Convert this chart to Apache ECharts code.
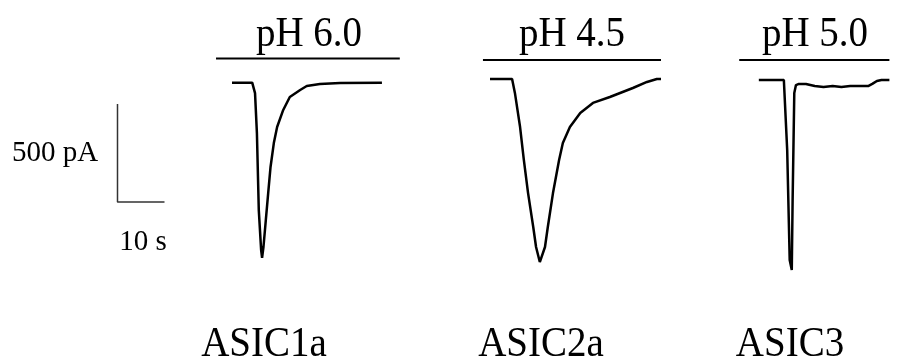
<!DOCTYPE html>
<html>
<head>
<meta charset="utf-8">
<script src="https://cdn.jsdelivr.net/npm/echarts@6/dist/echarts.min.js"></script>
<style>
  html, body { margin: 0; padding: 0; background: #fff; }
  #main { width: 909px; height: 361px; }
</style>
</head>
<body>
<div id="main"></div>
<script type="text/javascript">
    // 数据：时间 (s) 与电流 (pA)
    var channels = ['ASIC1a', 'ASIC2a', 'ASIC3'];
    var phLabels = ['pH 6.0', 'pH 4.5', 'pH 5.0'];

    var trace1 = [[0, 0], [4.3, 0], [4.9, -53], [5.3, -257], [5.7, -650], [6.2, -854], [6.4, -894],
        [6.7, -837], [7.2, -700], [7.7, -563], [8.2, -430], [8.9, -308], [9.6, -226], [10.9, -139],
        [12.3, -73], [14.5, -37], [15.9, -17], [18.7, -7], [23.0, -2], [31.9, 0]];
    var trace2 = [[0, 0], [4.7, 0], [5.3, -71], [6.4, -245], [7.2, -413], [8.1, -582], [9.2, -755],
        [9.8, -857], [10.6, -934], [11.7, -857], [12.3, -755], [13.4, -582], [14.7, -413], [15.5, -327],
        [17.0, -245], [19.2, -173], [21.9, -122], [25.5, -92], [30.4, -46], [33.4, -15], [35.5, 0], [37.7, 0]];
    var trace3 = [[0, 0], [6.0, 0], [6.4, -10], [6.8, -357], [7.4, -918], [7.9, -969], [8.1, -612],
        [8.5, -66], [8.9, -26], [9.6, -20], [11.3, -20], [13.4, -31], [15.5, -36], [17.7, -31],
        [19.8, -36], [21.9, -31], [24.0, -31], [26.2, -31], [27.2, -20], [28.3, -5], [29.4, 0], [31.3, 0]];

    // 给药时间条 (起止时间 s, 高度 pA)
    var phBar1 = [[-3.4, 124], [35.7, 124]];
    var phBar2 = [[-1.5, 97], [37.2, 97]];
    var phBar3 = [[-4.7, 102], [31.3, 102]];

    // 标尺：10 s / 500 pA
    var scaleBar = [[0, 500], [0, 0], [10, 0]];

    var traces = [trace1, trace2, trace3];
    var bars = [phBar1, phBar2, phBar3];

    // 版式
    var pxPerS = 4.7, pxPerPA = 0.196;
    var originX = [232, 490, 762];
    var baseY = [82.7, 79, 80];
    var xMin = -6, xMax = 36, yMin = -1050, yMax = 150;
    var font = '"Liberation Serif", "Times New Roman", serif';

    var grids = [], xAxes = [], yAxes = [], series = [];
    for (var i = 0; i < 3; i++) {
        grids.push({
            left: originX[i] + xMin * pxPerS,
            top: baseY[i] - yMax * pxPerPA,
            width: (xMax - xMin) * pxPerS,
            height: (yMax - yMin) * pxPerPA
        });
        xAxes.push({ type: 'value', gridIndex: i, min: xMin, max: xMax, show: false });
        yAxes.push({ type: 'value', gridIndex: i, min: yMin, max: yMax, show: false });
        series.push({
            type: 'line', xAxisIndex: i, yAxisIndex: i, data: traces[i],
            showSymbol: false, clip: false,
            lineStyle: { color: '#000', width: 2.5 }
        });
        series.push({
            type: 'line', xAxisIndex: i, yAxisIndex: i, data: bars[i],
            showSymbol: false, clip: false,
            lineStyle: { color: '#000', width: 2 }
        });
    }
    // 标尺网格
    grids.push({ left: 117.5, top: 104, width: 10 * pxPerS, height: 500 * pxPerPA });
    xAxes.push({ type: 'value', gridIndex: 3, min: 0, max: 10, show: false });
    yAxes.push({ type: 'value', gridIndex: 3, min: 0, max: 500, show: false });
    series.push({
        type: 'line', xAxisIndex: 3, yAxisIndex: 3, data: scaleBar,
        showSymbol: false, clip: false,
        lineStyle: { color: '#333', width: 1.5 }
    });

    function txt(s, x, y, size, sy) {
        return {
            type: 'text', x: x, y: y, scaleY: sy || 1,
            style: { text: s, font: size + 'px ' + font, fill: '#000', align: 'center', verticalAlign: 'middle' }
        };
    }
    var phX = [309, 572, 815];
    var chX = [264, 541, 790];
    var graphics = [];
    for (var j = 0; j < 3; j++) {
        graphics.push(txt(phLabels[j], phX[j], 35, 39, 1.06));
        graphics.push(txt(channels[j], chX[j], 345, 39, 1.06));
    }
    graphics.push(txt('500 pA', 55, 153, 29));
    graphics.push(txt('10 s', 143, 242, 29));

    var myChart = echarts.init(document.getElementById('main'));
    var option = {
        animation: false,
        backgroundColor: '#fff',
        grid: grids,
        xAxis: xAxes,
        yAxis: yAxes,
        series: series,
        graphic: graphics
    };
    myChart.setOption(option);
</script>
</body>
</html>
